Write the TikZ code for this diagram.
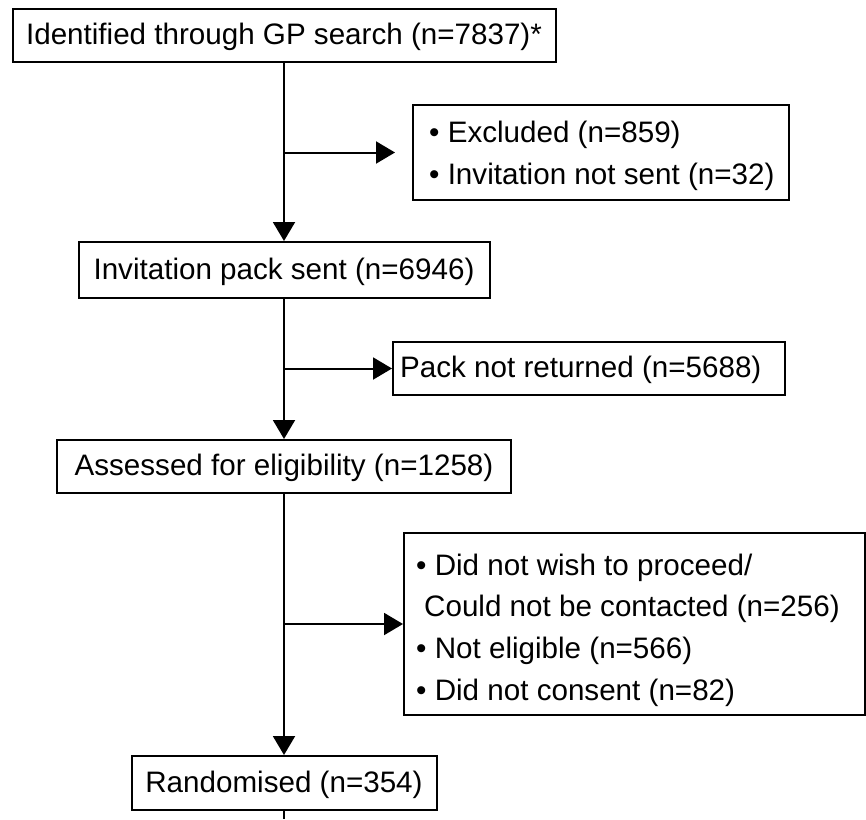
\documentclass[tikz,border=0pt]{standalone}
\usepackage{fontspec}
\setmainfont{Liberation Sans}
\usetikzlibrary{arrows.meta}
\tikzset{
  box/.style={draw, line width=2pt, inner sep=0pt},
  txt/.style={inner sep=0pt, font=\fontsize{29.6}{41.7}\selectfont, text height=24pt, text depth=6pt},
  sidetxt/.style={inner sep=0pt, font=\fontsize{29.6}{41.7}\selectfont, align=left, anchor=west},
  flow/.style={line width=2pt, -{Triangle[length=19pt,width=22pt]}},
  plain/.style={line width=2pt}
}
\begin{document}
\begin{tikzpicture}[x=1pt,y=-1pt]
\useasboundingbox (0,0) rectangle (866,819);
\node[box, txt, minimum width=543pt, minimum height=53pt] (b1) at (284,35.5) {Identified through GP search (n=7837)*};
\node[box, minimum width=376pt, minimum height=95pt] (e1) at (601,152.5) {};
\node[sidetxt] (t1) at ([xshift=17pt,yshift=-3pt]e1.west) {• Excluded (n=859)\\• Invitation not sent (n=32)};
\node[box, txt, minimum width=411pt, minimum height=56pt] (b2) at (284,270) {Invitation pack sent (n=6946)};
\node[box, minimum width=392pt, minimum height=53pt] (e2) at (589,368.5) {};
\node[sidetxt, text height=24pt, text depth=6pt] (t2) at ([xshift=8pt]e2.west) {Pack not returned (n=5688)};
\node[box, txt, minimum width=454pt, minimum height=53pt] (b3) at (284,466.5) {Assessed for eligibility (n=1258)};
\node[box, minimum width=461pt, minimum height=182pt] (e3) at (634.5,624) {};
\node[sidetxt] (t3) at ([xshift=13pt,yshift=-6pt]e3.west)
  {• Did not wish to proceed/\\\hspace*{8pt}Could not be contacted (n=256)\\• Not eligible (n=566)\\• Did not consent (n=82)};
\node[box, txt, minimum width=305pt, minimum height=54pt] (b4) at (284,783) {Randomised (n=354)};
\coordinate (end) at (284,819);

\draw[flow] (b1.south) -- (b2.north);
\draw[flow] (b2.south) -- (b3.north);
\draw[flow] (b3.south) -- (b4.north);
\draw[plain] (b4.south) -- (end);
\draw[flow, shorten >=17pt] (b1.south |- e1.west) -- (e1.west);
\draw[flow] (b2.south |- e2.west) -- (e2.west);
\draw[flow] (b3.south |- e3.west) -- (e3.west);
\end{tikzpicture}
\end{document}
